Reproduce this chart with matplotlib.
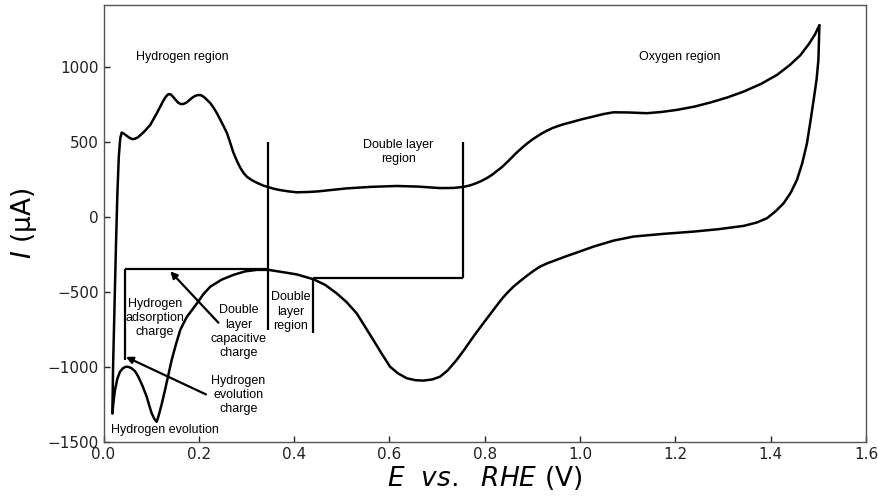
import matplotlib

matplotlib.use("Agg")

import matplotlib.pyplot as plt

# anodic sweep (E in V vs RHE, I in uA)
e_anodic = [0.0185, 0.020, 0.023, 0.026, 0.029, 0.032, 0.035, 0.038, 0.043, 0.050,
            0.056, 0.061, 0.066, 0.072, 0.085, 0.098, 0.112, 0.125, 0.131, 0.136,
            0.141, 0.146, 0.152, 0.157, 0.162, 0.168, 0.174, 0.180, 0.186, 0.192,
            0.198, 0.203, 0.208, 0.213, 0.218, 0.224, 0.231, 0.238, 0.245, 0.252,
            0.259, 0.265, 0.272, 0.280, 0.287, 0.294, 0.301, 0.311, 0.322, 0.334,
            0.346, 0.358, 0.370, 0.388, 0.405, 0.430, 0.450, 0.480, 0.510, 0.560,
            0.615, 0.660, 0.706, 0.735, 0.755, 0.768, 0.780, 0.792, 0.804, 0.815,
            0.825, 0.836, 0.846, 0.857, 0.868, 0.878, 0.888, 0.899, 0.910, 0.920,
            0.930, 0.942, 0.955, 0.967, 0.979, 1.003, 1.028, 1.050, 1.070, 1.100,
            1.140, 1.170, 1.203, 1.240, 1.273, 1.310, 1.343, 1.380, 1.413, 1.440,
            1.462, 1.480, 1.493, 1.502]
i_anodic = [-1311, -1000, -600, -200, 150, 400, 520, 560, 552, 535,
            522, 516, 519, 528, 565, 611, 690, 770, 800, 816,
            814, 798, 775, 758, 750, 751, 760, 776, 792, 804,
            810, 810, 803, 790, 775, 756, 725, 688, 645, 602,
            556, 500, 430, 370, 325, 290, 265, 243, 225, 208,
            196, 185, 177, 168, 162, 164, 168, 178, 188, 198,
            204, 200, 190, 191, 198, 207, 220, 236, 256, 278,
            303, 330, 360, 395, 430, 458, 485, 512, 535, 555,
            572, 590, 605, 617, 627, 648, 667, 684, 695, 694,
            689, 697, 711, 733, 760, 795, 833, 885, 944, 1010,
            1075, 1150, 1215, 1275]

# cathodic sweep
e_cathodic = [1.502, 1.500, 1.496, 1.490, 1.483, 1.476, 1.466, 1.455, 1.442, 1.427,
              1.410, 1.392, 1.370, 1.343, 1.290, 1.238, 1.175, 1.112, 1.070, 1.028,
              0.990, 0.970, 0.950, 0.932, 0.916, 0.902, 0.888, 0.874, 0.860, 0.849,
              0.838, 0.828, 0.818, 0.797, 0.776, 0.758, 0.741, 0.722, 0.706, 0.690,
              0.671, 0.654, 0.636, 0.618, 0.601, 0.584, 0.566, 0.548, 0.531, 0.510,
              0.489, 0.465, 0.440, 0.405, 0.370, 0.346, 0.322, 0.297, 0.272, 0.248,
              0.224, 0.210, 0.196, 0.185, 0.175, 0.168, 0.161, 0.152, 0.143, 0.136,
              0.129, 0.122, 0.115, 0.1115, 0.107, 0.101, 0.096, 0.0905, 0.082, 0.073,
              0.066, 0.059, 0.053, 0.047, 0.041, 0.0346, 0.029, 0.024, 0.021, 0.0185]
i_cathodic = [1275, 1045, 910, 778, 630, 489, 355, 245, 160, 89,
              35, -11, -40, -62, -84, -100, -115, -133, -160, -200,
              -243, -265, -289, -310, -333, -362, -395, -430, -467, -502,
              -540, -580, -622, -710, -800, -882, -955, -1025, -1067, -1085,
              -1093, -1090, -1077, -1045, -1000, -915, -822, -730, -644, -570,
              -511, -455, -417, -385, -367, -355, -355, -365, -389, -420,
              -467, -515, -578, -625, -667, -710, -755, -850, -955, -1055,
              -1155, -1250, -1333, -1367, -1350, -1311, -1260, -1200, -1130, -1067,
              -1030, -1011, -1002, -1000, -1010, -1033, -1080, -1155, -1230, -1311]

x_ticks = [0.0, 0.2, 0.4, 0.6, 0.8, 1.0, 1.2, 1.4, 1.6]
y_ticks = [-1500, -1000, -500, 0, 500, 1000]

# bracket lines marking the regions / charges
bracket_lines = [
    ([0.345, 0.345], [500, -755]),
    ([0.755, 0.755], [500, -410]),
    ([0.439, 0.755], [-410, -410]),
    ([0.439, 0.439], [-410, -775]),
    ([0.045, 0.345], [-351, -351]),
    ([0.045, 0.045], [-351, -958]),
]

# (text, x, y)
region_labels = [
    ("Hydrogen region", 0.165, 1065),
    ("Oxygen region", 1.21, 1065),
    ("Double layer\nregion", 0.618, 431),
    ("Hydrogen\nadsorption\ncharge", 0.108, -677),
    ("Double\nlayer\ncapacitive\ncharge", 0.283, -768),
    ("Double\nlayer\nregion", 0.392, -633),
    ("Hydrogen\nevolution\ncharge", 0.283, -1189),
    ("Hydrogen evolution", 0.129, -1422),
]

# (tip x, tip y, tail x, tail y)
arrows = [
    (0.140, -365, 0.241, -707),
    (0.047, -935, 0.215, -1185),
]


def main() -> None:
    plt.rcParams.update({"font.family": "DejaVu Sans"})

    fig = plt.figure(figsize=(8.79, 5.0), dpi=100)
    ax = fig.add_axes([0.1178, 0.1166, 0.8675, 0.8734])

    for xs, ys in [(e_anodic, i_anodic), (e_cathodic, i_cathodic)]:
        ax.plot(xs, ys, color="black", linewidth=1.8,
                solid_joinstyle="round", solid_capstyle="round")

    for xs, ys in bracket_lines:
        ax.plot(xs, ys, color="black", linewidth=1.6, solid_capstyle="butt")

    for text, x, y in region_labels:
        ax.text(x, y, text, ha="center", va="center", fontsize=9,
                family="Liberation Sans", linespacing=1.25)

    for tx, ty, sx, sy in arrows:
        ax.annotate("", xy=(tx, ty), xytext=(sx, sy),
                    arrowprops={"arrowstyle": "-|>", "color": "black",
                                "linewidth": 1.6, "mutation_scale": 10,
                                "shrinkA": 0, "shrinkB": 0})

    ax.set_xlim(0.0, 1.6)
    ax.set_ylim(-1500, 1410)
    ax.set_xticks(x_ticks)
    ax.set_yticks(y_ticks)
    ax.tick_params(direction="in", labelsize=11, length=4, width=1,
                   colors="#222222")
    for spine in ax.spines.values():
        spine.set_color("#555555")
        spine.set_linewidth(1.0)

    ax.set_xlabel(r"$E\ \ vs.\ \ RHE$ (V)", fontsize=19, labelpad=2)
    ax.set_ylabel(r"$I$ (μA)", fontsize=19, labelpad=6)

    fig.savefig("out.png", dpi=100)
    plt.close(fig)


if __name__ == "__main__":
    main()
